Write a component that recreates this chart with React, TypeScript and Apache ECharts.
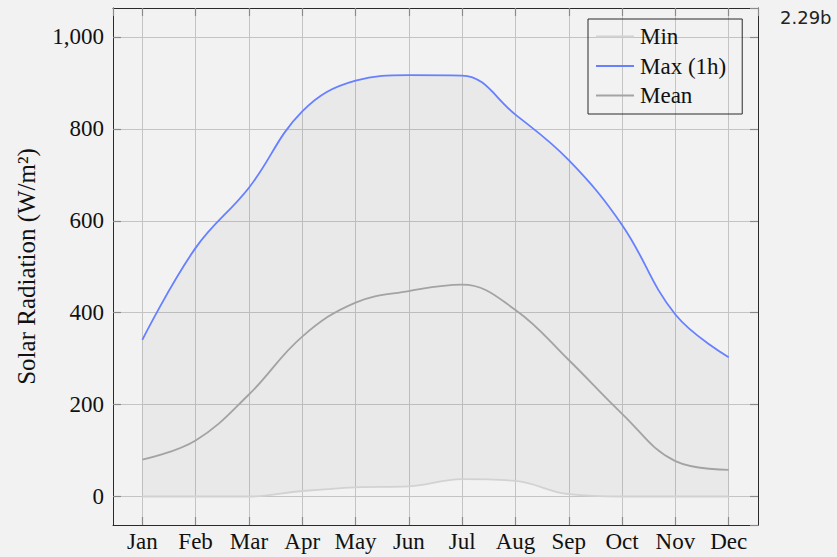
import React, { useEffect, useRef } from "react";
import * as echarts from "echarts";

const months = ["Jan", "Feb", "Mar", "Apr", "May", "Jun", "Jul", "Aug", "Sep", "Oct", "Nov", "Dec"];
const minValues = [0, 0, 0, 12, 20, 22, 38, 34, 5, 0, 0, 0];
const maxValues = [341, 541, 672, 838, 905, 917, 916, 831, 732, 591, 396, 303];
const meanValues = [80, 122, 222, 348, 422, 447, 461, 406, 297, 180, 77, 58];
const yTicks = [0, 200, 400, 600, 800, 1000];

const SERIF = "'Liberation Serif', 'Times New Roman', serif";

export default function App() {
  const ref = useRef<HTMLDivElement>(null);
  useEffect(() => {
    if (!ref.current) return;
    const chart = echarts.init(ref.current, null, { renderer: "svg" });
    // data as [value, monthIndex] so the stacked dimension is the value one
    const pts = (arr: number[]) => arr.map((v, i) => [v, i]);
    const bandValues = maxValues.map((v, i) => v - minValues[i]);
    const smooth = 0.4;
    const gridColor = "#c4c4c4";
    const tickColor = "#8a8a8a";
    const frameColor = "#2a2a2a";
    const xLabel = (v: number) => (Number.isInteger(v) && v >= 0 && v < months.length ? months[v] : "");
    const yLabel = (v: number) => (yTicks.includes(v) ? v.toLocaleString("en-US") : "");
    chart.setOption({
      animation: false,
      backgroundColor: "#f2f2f2",
      textStyle: { fontFamily: SERIF },
      grid: { left: 113, right: 79, top: 8, bottom: 32, containLabel: false },
      legend: {
        orient: "vertical",
        left: 588,
        top: 19,
        data: ["Min", "Max (1h)", "Mean"],
        icon: "rect",
        itemWidth: 38,
        itemHeight: 2,
        itemGap: 6.5,
        padding: [6, 16, 7, 8],
        borderColor: frameColor,
        borderWidth: 1,
        backgroundColor: "transparent",
        textStyle: { fontFamily: SERIF, fontSize: 23, color: "#111", lineHeight: 23, padding: [0, 0, 0, 1] },
      },
      xAxis: [
        {
          type: "value",
          min: -0.55,
          max: 11.55,
          minInterval: 1,
          maxInterval: 1,
          axisLine: { show: true, onZero: false, lineStyle: { color: frameColor, width: 1 } },
          axisTick: { show: true, inside: true, length: 8, lineStyle: { color: tickColor, width: 1.2 } },
          axisLabel: { formatter: xLabel, fontFamily: SERIF, fontSize: 23, color: "#111", margin: 5, showMinLabel: false, showMaxLabel: false },
          splitLine: { show: true, lineStyle: { color: gridColor, width: 1 } },
        },
        {
          type: "value",
          position: "top",
          min: -0.55,
          max: 11.55,
          minInterval: 1,
          maxInterval: 1,
          axisLine: { show: true, onZero: false, lineStyle: { color: frameColor, width: 1 } },
          axisTick: { show: true, inside: true, length: 8, lineStyle: { color: tickColor, width: 1.2 } },
          axisLabel: { show: false },
          splitLine: { show: false },
        },
      ],
      yAxis: [
        {
          type: "value",
          min: -62,
          max: 1063,
          minInterval: 200,
          maxInterval: 200,
          name: "Solar Radiation (W/m²)",
          nameLocation: "middle",
          nameGap: 74,
          nameTextStyle: { fontFamily: SERIF, fontSize: 25, color: "#111" },
          axisLine: { show: true, onZero: false, lineStyle: { color: frameColor, width: 1 } },
          axisTick: { show: true, inside: true, length: 8, lineStyle: { color: tickColor, width: 1.2 } },
          axisLabel: { formatter: yLabel, fontFamily: SERIF, fontSize: 23, color: "#111", margin: 9, showMinLabel: false, showMaxLabel: false },
          splitLine: { show: true, lineStyle: { color: gridColor, width: 1 } },
        },
        {
          type: "value",
          position: "right",
          min: -62,
          max: 1063,
          minInterval: 200,
          maxInterval: 200,
          axisLine: { show: true, onZero: false, lineStyle: { color: frameColor, width: 1 } },
          axisTick: { show: true, inside: true, length: 8, lineStyle: { color: tickColor, width: 1.2 } },
          axisLabel: { show: false },
          splitLine: { show: false },
        },
      ],
      series: [
        {
          name: "Min",
          type: "line",
          stack: "band",
          data: pts(minValues),
          encode: { x: 1, y: 0 },
          smooth,
          symbol: "none",
          color: "#d2d2d2",
          lineStyle: { color: "#d2d2d2", width: 1.8 },
          z: 3,
        },
        {
          name: "Max (1h)",
          type: "line",
          stack: "band",
          data: pts(bandValues),
          encode: { x: 1, y: 0 },
          smooth,
          symbol: "none",
          color: "#6680ff",
          lineStyle: { color: "#6680ff", width: 1.8 },
          areaStyle: { color: "rgba(0,0,0,0.05)" },
          z: 3,
        },
        {
          name: "Mean",
          type: "line",
          data: pts(meanValues),
          encode: { x: 1, y: 0 },
          smooth,
          symbol: "none",
          color: "#a3a3a3",
          lineStyle: { color: "#a3a3a3", width: 1.8 },
          z: 4,
        },
      ],
      graphic: [
        {
          type: "text",
          left: 780,
          top: 8,
          style: { text: "2.29b", fontFamily: "'DejaVu Sans', sans-serif", fontSize: 18, fill: "#222" },
        },
      ],
    });
    return () => chart.dispose();
  }, []);
  return (
    <div
      ref={ref}
      style={{ position: "fixed", left: 0, top: 0, width: 837, height: 557, background: "#f2f2f2" }}
    />
  );
}
